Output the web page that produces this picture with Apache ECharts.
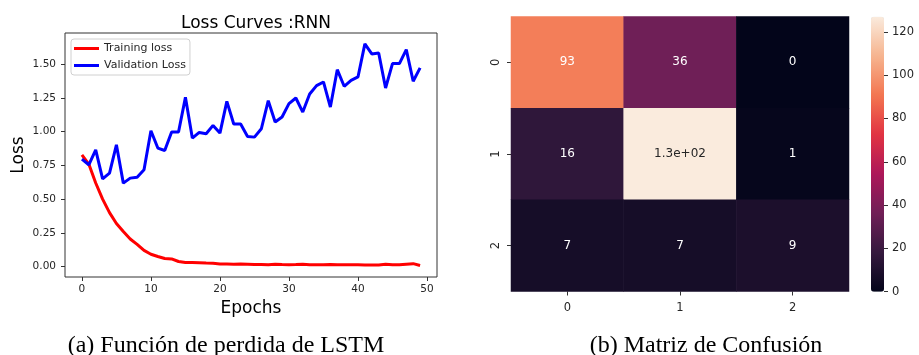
<!DOCTYPE html>
<html>
<head>
<meta charset="utf-8">
<script src="https://cdn.jsdelivr.net/npm/echarts@6/dist/echarts.min.js"></script>
<style>
html,body{margin:0;padding:0;background:#fff;}
#c{width:919px;height:355px;}
</style>
</head>
<body>
<div id="c"></div>
<script>
// ---------- Data ----------
const epochs = [0,1,2,3,4,5,6,7,8,9,10,11,12,13,14,15,16,17,18,19,20,21,22,23,24,25,26,27,28,29,30,31,32,33,34,35,36,37,38,39,40,41,42,43,44,45,46,47,48,49];
const trainingLoss = [0.828,0.76,0.62,0.50,0.40,0.32,0.26,0.205,0.165,0.12,0.092,0.075,0.06,0.057,0.038,0.03,0.03,0.028,0.026,0.025,0.02,0.019,0.018,0.02,0.018,0.016,0.016,0.014,0.018,0.015,0.014,0.015,0.018,0.014,0.013,0.014,0.016,0.014,0.013,0.014,0.013,0.012,0.012,0.012,0.018,0.013,0.013,0.018,0.022,0.008];
const validationLoss = [0.797,0.755,0.866,0.651,0.693,0.903,0.619,0.656,0.663,0.718,1.007,0.879,0.861,0.998,0.998,1.255,0.953,0.995,0.985,1.047,0.99,1.225,1.057,1.057,0.965,0.96,1.022,1.23,1.072,1.109,1.208,1.25,1.146,1.28,1.342,1.369,1.183,1.46,1.337,1.381,1.406,1.651,1.577,1.584,1.324,1.505,1.505,1.609,1.374,1.473];
const xTicks = [0,10,20,30,40,50];
const yTicks = [0,0.25,0.5,0.75,1.0,1.25,1.5];

const cmClasses = ['0','1','2'];
// rows = true class (top to bottom), cols = predicted
const cmRow0 = [93,36,0];
const cmRow1 = [16,127,1];
const cmRow2 = [7,7,9];
const cbarTicks = [0,20,40,60,80,100,120];

const titleText = 'Loss Curves :RNN';
const captionA = '(a) Función de perdida de LSTM';
const captionB = '(b) Matriz de Confusión';

// ---------- helpers ----------
function fmt2g(v){
  if (v === 0) return '0';
  const e = Math.floor(Math.log10(Math.abs(v)));
  if (e >= 2 || e < -4){
    const m = (v/Math.pow(10,e)).toFixed(1);
    const ex = (e<0?'-':'+') + String(Math.abs(e)).padStart(2,'0');
    return m + 'e' + ex;
  }
  return String(Number(v.toPrecision(2)));
}
const rocket = ['#03051a','#35193e','#701f57','#ad1759','#e13342','#f37651','#f6b48f','#faebdd'];

const cmRows = [cmRow0, cmRow1, cmRow2];
const cmMax = Math.max(...cmRows.flat());
const heatData = [];
cmRows.forEach((row, r) => row.forEach((v, c) => {
  heatData.push({value:[c, r, v], label:{color: v/cmMax > 0.8 ? '#262626' : '#ffffff'}});
}));

const txt = '#262626';
const font = 'DejaVu Sans';

const chart = echarts.init(document.getElementById('c'), null, {renderer:'canvas'});
chart.setOption({
  animation:false,
  backgroundColor:'#fff',
  textStyle:{fontFamily:font},
  title:{
    text:titleText, left:251, top:10, textAlign:'center',
    textStyle:{fontFamily:font, fontSize:17, fontWeight:'normal', color:'#000'}
  },
  legend:{
    data:['Training loss','Validation Loss'],
    orient:'vertical', left:71, top:39,
    itemWidth:25, itemHeight:3, itemGap:4, icon:'rect',
    padding:[3,4,3,3],
    borderColor:'#d0d0d0', borderWidth:1, borderRadius:3,
    backgroundColor:'rgba(255,255,255,0.8)',
    textStyle:{fontFamily:font, fontSize:11, color:txt, lineHeight:13}
  },
  grid:[
    {left:65, top:33, width:372, height:244, show:true, borderColor:'#333', borderWidth:1, containLabel:false},
    {left:511, top:16.5, width:338, height:275, containLabel:false},
    {left:871, top:16.7, width:13, height:275, containLabel:false}
  ],
  xAxis:[
    {gridIndex:0, type:'value', min:-2.45, max:51.45, position:'bottom',
     name:'Epochs', nameLocation:'middle', nameGap:22,
     nameTextStyle:{fontFamily:font, fontSize:17, color:'#000'},
     axisLine:{show:false, onZero:false}, splitLine:{show:false},
     axisTick:{show:true, length:4, lineStyle:{color:'#333'}, customValues:xTicks},
     axisLabel:{fontFamily:font, fontSize:10.5, color:txt, margin:7, customValues:xTicks, formatter:v=>String(v)}},
    {gridIndex:1, type:'category', data:cmClasses, position:'bottom',
     axisLine:{show:false, onZero:false}, splitLine:{show:false},
     axisTick:{show:true, alignWithLabel:true, length:4, lineStyle:{color:'#333'}},
     axisLabel:{fontFamily:font, fontSize:11.5, color:txt, margin:11}},
    {gridIndex:2, type:'value', show:false, min:0, max:1}
  ],
  yAxis:[
    {gridIndex:0, type:'value', min:-0.077, max:1.732, position:'left',
     name:'Loss', nameLocation:'middle', nameGap:38, nameRotate:90,
     nameTextStyle:{fontFamily:font, fontSize:17, color:'#000'},
     axisLine:{show:false, onZero:false}, splitLine:{show:false},
     axisTick:{show:true, length:4, lineStyle:{color:'#333'}, customValues:yTicks},
     axisLabel:{fontFamily:font, fontSize:10.5, color:txt, margin:9, customValues:yTicks, formatter:v=>v.toFixed(2)}},
    {gridIndex:1, type:'category', data:cmClasses, inverse:true, position:'left',
     axisLine:{show:false, onZero:false}, splitLine:{show:false},
     axisTick:{show:true, alignWithLabel:true, length:4, lineStyle:{color:'#333'}},
     axisLabel:{fontFamily:font, fontSize:11.5, color:txt, margin:9, rotate:90}},
    {gridIndex:2, type:'value', position:'right', min:0, max:cmMax,
     axisLine:{show:false, onZero:false}, splitLine:{show:false},
     axisTick:{show:true, length:4, lineStyle:{color:'#333'}, customValues:cbarTicks},
     axisLabel:{fontFamily:font, fontSize:11.5, color:txt, margin:8, customValues:cbarTicks}}
  ],
  visualMap:{
    type:'continuous', seriesIndex:2, min:0, max:cmMax,
    calculable:false, hoverLink:false, orient:'vertical',
    left:871, top:16.7, itemWidth:13, itemHeight:275, padding:0,
    text:null, showLabel:false,
    inRange:{color:rocket}
  },
  series:[
    {name:'Training loss', type:'line', xAxisIndex:0, yAxisIndex:0,
     data:epochs.map((e,i)=>[e, trainingLoss[i]]),
     showSymbol:false, symbol:'none', lineStyle:{color:'#ff0000', width:3}, itemStyle:{color:'#ff0000'}},
    {name:'Validation Loss', type:'line', xAxisIndex:0, yAxisIndex:0,
     data:epochs.map((e,i)=>[e, validationLoss[i]]),
     showSymbol:false, symbol:'none', lineStyle:{color:'#0000ff', width:3}, itemStyle:{color:'#0000ff'}},
    {name:'cm', type:'heatmap', xAxisIndex:1, yAxisIndex:1, data:heatData,
     label:{show:true, fontFamily:font, fontSize:12, formatter:p=>fmt2g(p.value[2])},
     itemStyle:{borderWidth:0}, emphasis:{disabled:true}}
  ],
  graphic:[
    {type:'text', x:226, y:346, style:{text:captionA, font:'24px "Liberation Serif"', fill:'#000', align:'center', verticalAlign:'middle'}},
    {type:'text', x:706, y:346, style:{text:captionB, font:'24px "Liberation Serif"', fill:'#000', align:'center', verticalAlign:'middle'}}
  ]
});
</script>
</body>
</html>
